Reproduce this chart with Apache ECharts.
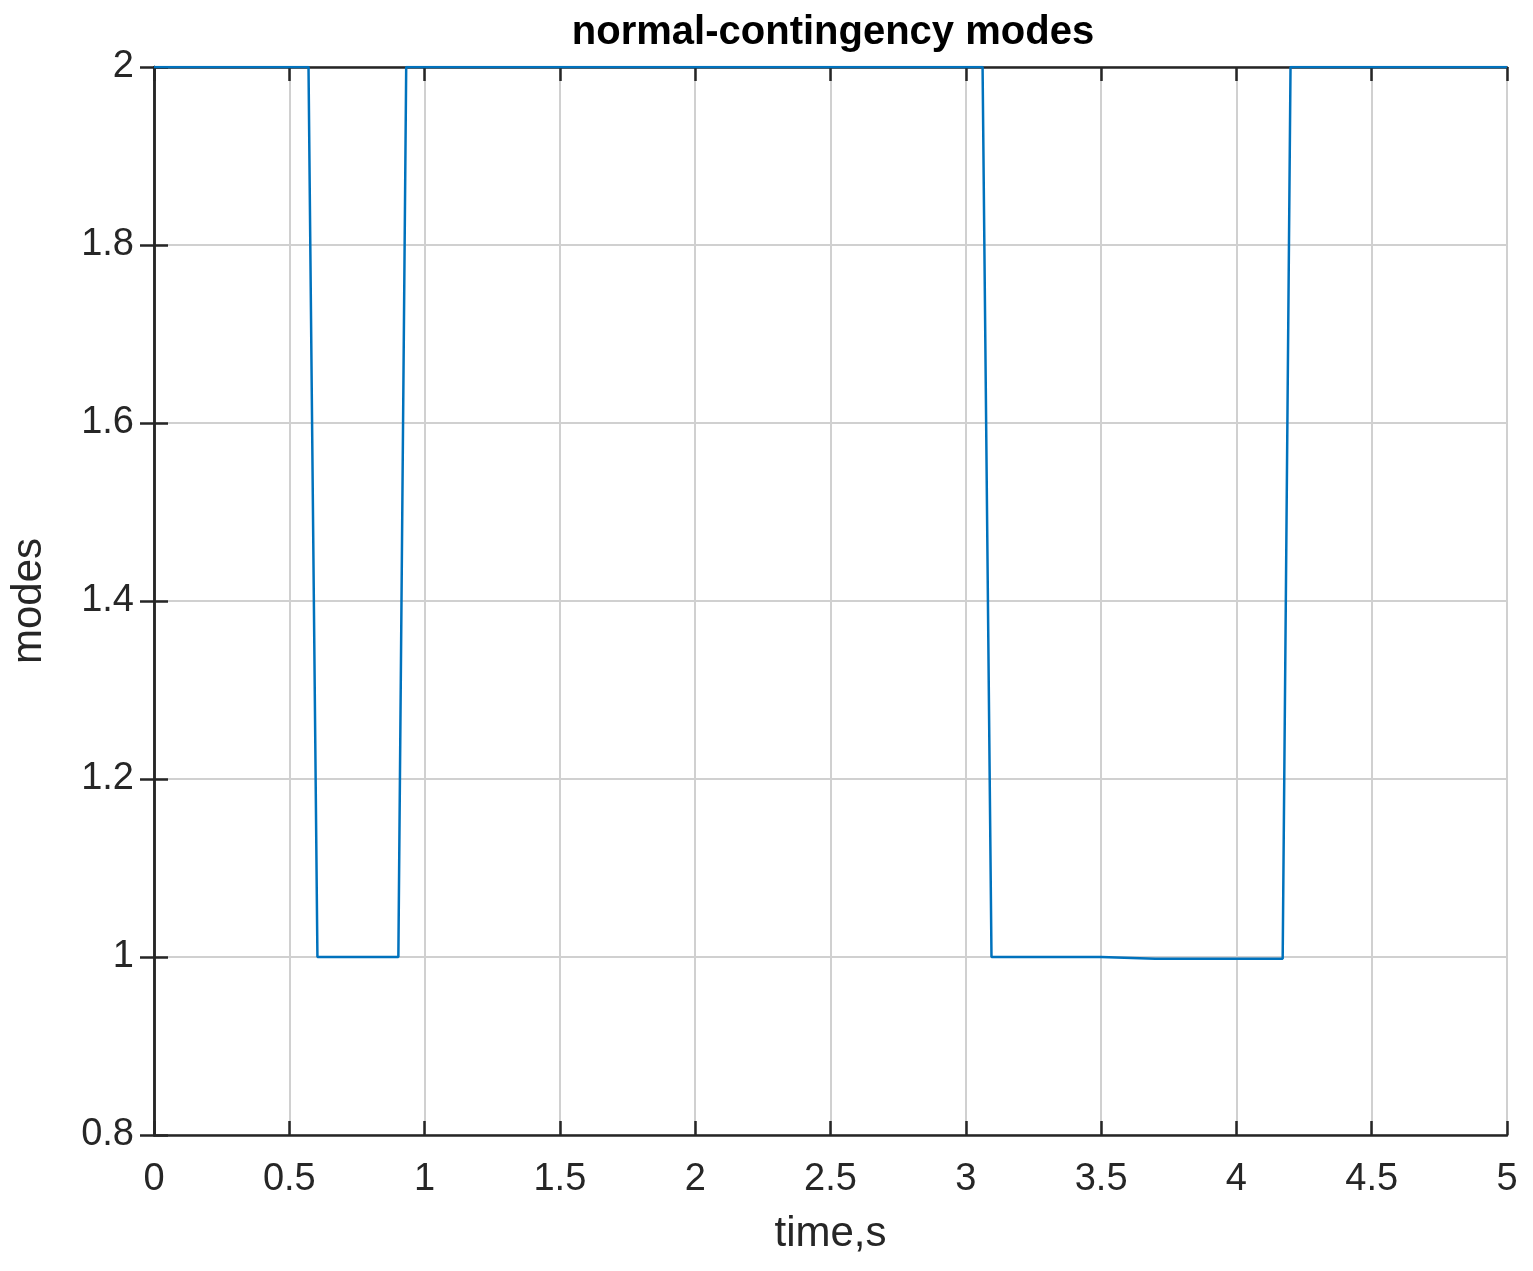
<!DOCTYPE html>
<html><head><meta charset="utf-8">
<script src="https://cdn.jsdelivr.net/npm/echarts@6/dist/echarts.min.js"></script>
<style>html,body{margin:0;padding:0;background:#fff}#c{width:1533px;height:1271px}</style>
</head><body><div id="c"></div>
<script>
const timeS = [0, 0.571, 0.604, 0.903, 0.932, 3.062, 3.095, 3.5, 3.7, 4.171, 4.200, 5];
const modes = [2, 2, 1, 1, 2, 2, 1, 1, 0.998, 0.998, 2, 2];
const pts = timeS.map((t, i) => [t, modes[i]]);
const font = 'Liberation Sans, Arial, sans-serif';
const line = {show: true, lineStyle: {color: '#262626', width: 2.5}};
const tick = {show: true, inside: true, length: 14, lineStyle: {color: '#262626', width: 2.5}};
const grid = {show: true, lineStyle: {color: '#d0d0d0', width: 2}};
const chart = echarts.init(document.getElementById('c'));
chart.setOption({
  animation: false,
  backgroundColor: '#fff',
  title: {text: 'normal-contingency modes', left: 828, top: 8, textAlign: 'center',
    textStyle: {fontFamily: font, fontWeight: 'bold', fontSize: 40, color: '#000'}},
  grid: {left: 150, right: 26, top: 67, bottom: 136},
  xAxis: [
    {type: 'value', min: 0, max: 5, interval: 0.5, name: 'time,s', position: 'bottom',
      nameLocation: 'middle', nameGap: 78,
      nameTextStyle: {fontFamily: font, fontSize: 42, color: '#262626'},
      axisLabel: {fontFamily: font, fontSize: 38, color: '#262626', margin: 26},
      axisLine: line, axisTick: tick, splitLine: grid},
    {type: 'value', min: 0, max: 5, interval: 0.5, position: 'top',
      axisLabel: {show: false}, axisLine: line, axisTick: tick, splitLine: {show: false}}
  ],
  yAxis: [
    {type: 'value', min: 0.8, max: 2, interval: 0.2, name: 'modes', position: 'left',
      nameLocation: 'middle', nameGap: 104,
      nameTextStyle: {fontFamily: font, fontSize: 42, color: '#262626'},
      axisLabel: {fontFamily: font, fontSize: 38, color: '#262626', margin: 20,
        formatter: v => +v.toFixed(1) + ''},
      axisLine: line, axisTick: tick, splitLine: grid},
    {type: 'value', min: 0.8, max: 2, interval: 0.2, position: 'right',
      axisLabel: {show: false}, axisLine: line, axisTick: tick, splitLine: {show: false}}
  ],
  series: [{type: 'line', data: pts, showSymbol: false,
    lineStyle: {color: '#0072BD', width: 2.5}}]
});
</script></body></html>
